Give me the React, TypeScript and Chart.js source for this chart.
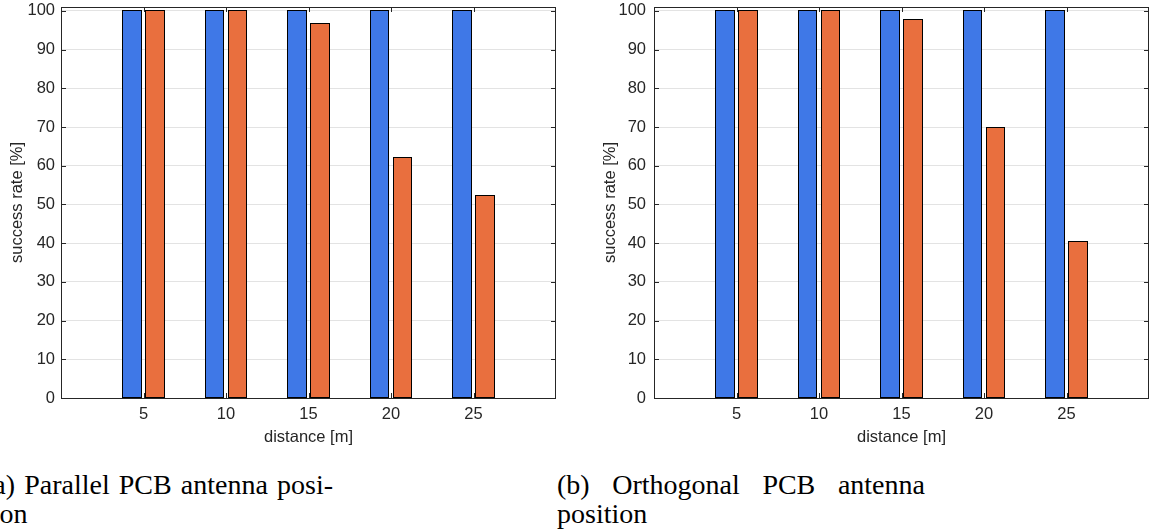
import React, { useEffect, useRef } from 'react';
import { Chart, registerables } from 'chart.js';

Chart.register(...registerables);

// ---- data ----
const distances = [5, 10, 15, 20, 25];
const yTickValues = [0, 10, 20, 30, 40, 50, 60, 70, 80, 90, 100];
const parallelBlue = [100, 100, 100, 100, 100];
const parallelOrange = [100, 100, 96.7, 62.1, 52.2];
const orthogonalBlue = [100, 100, 100, 100, 100];
const orthogonalOrange = [100, 100, 97.7, 69.9, 40.3];
const xTitle = 'distance [m]';
const yTitle = 'success rate [%]';
const captionA = [['(a)', 'Parallel', 'PCB', 'antenna', 'posi-'], ['tion']];
const captionB = [['(b)', 'Orthogonal', 'PCB', 'antenna'], ['position']];

const BLUE = '#3f78e7';
const ORANGE = '#e96f3e';
const AXIS = '#262626';
const FONT = { family: '"Liberation Sans", Arial, Helvetica, sans-serif', size: 16.5 };

const boxPlugin = {
  id: 'matlabBox',
  afterDatasetsDraw(chart: any) {
    const { ctx, chartArea, scales } = chart;
    const { left, right, top, bottom } = chartArea;
    const x = scales.x;
    const y = scales.y;
    const tl = 5;
    ctx.save();
    // crisp bar outlines, taken from the bar elements laid out by Chart.js
    ctx.strokeStyle = '#000';
    ctx.lineWidth = 1;
    chart.data.datasets.forEach((_d: any, di: number) => {
      const meta = chart.getDatasetMeta(di);
      meta.data.forEach((el: any) => {
        const p = el.getProps(['x', 'y', 'base', 'width'], true);
        const x0 = p.x - p.width / 2;
        const x1 = p.x + p.width / 2;
        const L = Math.floor(x0);
        const R = Math.ceil(x1) - 1;
        const T = Math.floor(Math.min(p.y, p.base));
        const B = Math.ceil(Math.max(p.y, p.base)) - 1;
        ctx.strokeRect(L + 0.5, T + 0.5, R - L, B - T);
      });
    });
    ctx.strokeStyle = AXIS;
    ctx.beginPath();
    yTickValues.forEach((v) => {
      const py = Math.round(y.getPixelForValue(v)) + 0.5;
      ctx.moveTo(left, py);
      ctx.lineTo(left + tl, py);
      ctx.moveTo(right, py);
      ctx.lineTo(right - tl, py);
    });
    distances.forEach((v) => {
      const px = Math.round(x.getPixelForValue(v)) + 0.5;
      ctx.moveTo(px, bottom);
      ctx.lineTo(px, bottom - tl);
      ctx.moveTo(px, top);
      ctx.lineTo(px, top + tl);
    });
    ctx.stroke();
    ctx.strokeRect(Math.round(left) + 0.5, Math.round(top) + 0.5, Math.round(right - left) - 1, Math.round(bottom - top));
    ctx.restore();
  },
};

type PanelProps = {
  blue: number[];
  orange: number[];
  left: number;
  yAxisWidth: number;
  rightPad: number;
  titlePad: number;
  labelPad: number;
};

const W = 577;
const H = 455;

function BarPanel({ blue, orange, left, yAxisWidth, rightPad, titlePad, labelPad }: PanelProps) {
  const ref = useRef<HTMLCanvasElement | null>(null);
  useEffect(() => {
    if (!ref.current) return;
    const pts = (vals: number[]) => distances.map((d, i) => ({ x: d, y: vals[i] }));
    const chart = new Chart(ref.current, {
      type: 'bar',
      data: {
        datasets: [
          { data: pts(blue) as any, backgroundColor: BLUE, borderWidth: 0, inflateAmount: 0 } as any,
          { data: pts(orange) as any, backgroundColor: ORANGE, borderWidth: 0, inflateAmount: 0 } as any,
        ],
      },
      options: {
        responsive: false,
        animation: false,
        layout: { padding: { left: 0, right: rightPad, top: 7, bottom: 0 } },
        plugins: { legend: { display: false }, tooltip: { enabled: false } },
        datasets: { bar: { categoryPercentage: 0.5576, barPercentage: 0.826 } },
        scales: {
          x: {
            type: 'linear',
            min: 0,
            max: 30,
            offset: false,
            grid: { display: false, drawTicks: false },
            border: { display: false },
            afterBuildTicks: (s: any) => {
              s.ticks = distances.map((v) => ({ value: v }));
            },
            ticks: { padding: 7, color: AXIS, font: FONT, maxRotation: 0, autoSkip: false },
            title: { display: true, text: xTitle, color: AXIS, font: FONT, padding: { top: 0, bottom: 8 } },
            afterFit: (s: any) => {
              s.height = H - 398;
              s.paddingLeft = 0;
              s.paddingRight = 0;
            },
          } as any,
          y: {
            min: 0,
            max: 101,
            afterBuildTicks: (s: any) => {
              s.ticks = yTickValues.map((v) => ({ value: v }));
            },
            grid: { color: '#e3e3e3', drawTicks: false },
            border: { display: false },
            ticks: { padding: labelPad, color: AXIS, font: FONT },
            title: { display: true, text: yTitle, color: AXIS, font: FONT, padding: { top: titlePad, bottom: 0 } },
            afterFit: (s: any) => {
              s.width = yAxisWidth;
              s.paddingTop = 0;
              s.paddingBottom = 0;
            },
          } as any,
        },
      },
      plugins: [boxPlugin],
    });
    return () => chart.destroy();
  }, []);
  return (
    <canvas
      ref={ref}
      width={W}
      height={H}
      style={{ position: 'absolute', left, top: 0, width: W, height: H }}
    />
  );
}

function Caption({ lines, left, width }: { lines: string[][]; left: number; width: number }) {
  return (
    <div
      style={{
        position: 'absolute',
        left,
        top: 470,
        width,
        fontFamily: '"Liberation Serif", "Times New Roman", serif',
        fontSize: 28,
        lineHeight: '29px',
        color: '#000',
      }}
    >
      {lines.map((words, i) => (
        <div
          key={i}
          style={{
            display: 'flex',
            justifyContent: i === 0 ? 'space-between' : 'flex-start',
            whiteSpace: 'nowrap',
          }}
        >
          {words.map((w, j) => (
            <span key={j}>{w}</span>
          ))}
        </div>
      ))}
    </div>
  );
}

export default function App() {
  return (
    <div
      style={{
        position: 'absolute',
        left: 0,
        top: 0,
        width: 1154,
        height: 529,
        overflow: 'hidden',
        background: '#fff',
      }}
    >
      <BarPanel blue={parallelBlue} orange={parallelOrange} left={0} yAxisWidth={61} rightPad={21} titlePad={7.6} labelPad={6} />
      <BarPanel blue={orthogonalBlue} orange={orthogonalOrange} left={577} yAxisWidth={77} rightPad={5} titlePad={23.1} labelPad={8} />
      <Caption lines={captionA} left={-16} width={349} />
      <Caption lines={captionB} left={557} width={368} />
    </div>
  );
}
